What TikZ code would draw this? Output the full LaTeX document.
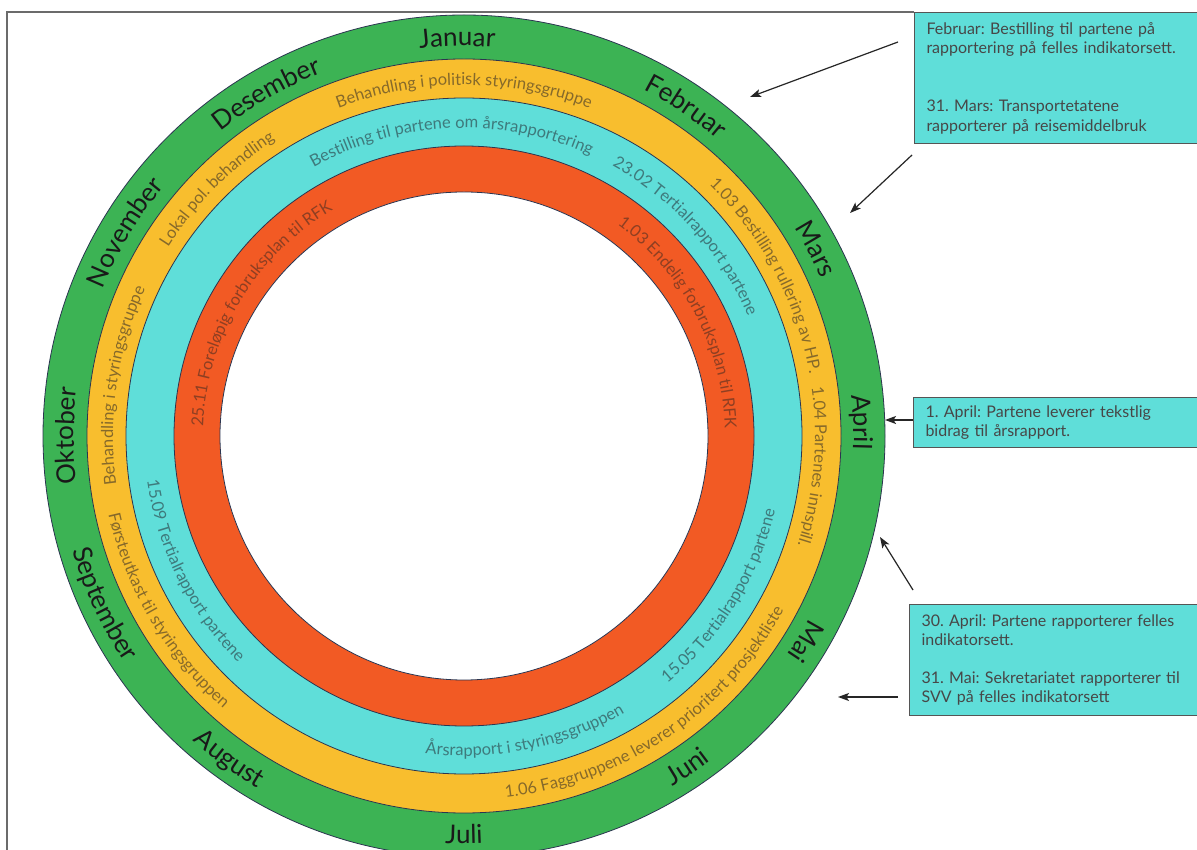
\documentclass[tikz,border=0pt]{standalone}
\usepackage{fontspec}
\setmainfont{Lato}
\usetikzlibrary{decorations.text,arrows.meta}
\definecolor{ringgreen}{HTML}{3CB354}
\definecolor{ringorange}{HTML}{F8BE2E}
\definecolor{ringcyan}{HTML}{5FDED9}
\definecolor{ringred}{HTML}{F25A24}
\definecolor{ringline}{HTML}{2B3550}
\definecolor{otxt}{HTML}{86692A}
\definecolor{ctxt}{HTML}{3E7A7C}
\definecolor{rtxt}{HTML}{8E3F22}
\definecolor{boxtxt}{HTML}{474747}
\definecolor{boxline}{HTML}{555555}
\definecolor{framegray}{HTML}{6B6B6B}
\frenchspacing
\newcommand\monthfmt{\fontsize{26}{30}\selectfont\color{black!90}}
\newcommand\ofmt{\fontsize{16.5}{19}\selectfont\color{otxt}}
\newcommand\cfmt{\fontsize{16.5}{19}\selectfont\color{ctxt}}
\newcommand\rfmt{\fontsize{16.5}{19}\selectfont\color{rtxt}}
\newcommand\cwtext[4]{\path[decorate,decoration={text along path,text align=center,text={|#3|#4}}] ({#2+100}:#1) arc[start angle={#2+100},end angle={#2-100},radius=#1];}
\newcommand\ccwtext[4]{\path[decorate,decoration={text along path,text align=center,text={|#3|#4}}] ({#2-100}:#1) arc[start angle={#2-100},end angle={#2+100},radius=#1];}
\tikzset{
  ring/.style={draw=ringline, line width=0.8pt},
  infobox/.style={draw=boxline, line width=1pt, fill=ringcyan, anchor=north west, align=left,
    inner xsep=12pt, inner ysep=0pt, text width=300pt, minimum width=324pt, text=boxtxt,
    font=\fontsize{16}{19.3}\selectfont},
  pointer/.style={draw=black!85, line width=1.2pt, -{Stealth[length=11pt,width=8pt,inset=2.5pt]}}
}
\begin{document}
\begin{tikzpicture}[x=1pt,y=1pt]
\useasboundingbox (0,0) rectangle (1197,849);
\clip (0,0) rectangle (1197,849);
\fill[white] (0,0) rectangle (1197,849);
% frame
\draw[framegray, line width=1.2pt] (7,-5) -- (7,837) -- (914,837);
\begin{scope}[shift={(464,413)}]
  \filldraw[ring, fill=ringgreen] (0,0) circle[radius=421];
  \filldraw[ring, fill=ringorange] (0,0) circle[radius=377];
  \filldraw[ring, fill=ringcyan] (0,0) circle[radius=338];
  \filldraw[ring, fill=ringred] (0,0) circle[radius=290];
  \filldraw[ring, fill=white] (0,0) circle[radius=244];
  % months
  \cwtext{390}{91}{\monthfmt}{Januar}
  \cwtext{390}{56}{\monthfmt}{Februar}
  \cwtext{390}{28}{\monthfmt}{Mars}
  \cwtext{390}{2}{\monthfmt}{April}
  \cwtext{390}{-31}{\monthfmt}{Mai}
  \ccwtext{408}{-56}{\monthfmt}{Juni}
  \ccwtext{408}{-90}{\monthfmt}{Juli}
  \ccwtext{408}{-126}{\monthfmt}{August}
  \ccwtext{408}{-155}{\monthfmt}{September}
  \cwtext{390}{180}{\monthfmt}{Oktober}
  \cwtext{390}{149}{\monthfmt}{November}
  \cwtext{390}{120}{\monthfmt}{Desember}
  % orange ring
  \cwtext{351}{90}{\ofmt}{Behandling i politisk styringsgruppe}
  \cwtext{351}{27.9}{\ofmt}{1.03 Bestilling rullering av HP.}
  \cwtext{351}{-5.1}{\ofmt}{1.04 Partenes innspill.}
  \ccwtext{364}{-56}{\ofmt}{1.06 Faggruppene leverer prioritert prosjektliste}
  \ccwtext{364}{-149.5}{\ofmt}{Førsteutkast til styringsgruppen}
  \cwtext{351}{171.6}{\ofmt}{Behandling i styringsgruppe}
  \cwtext{351}{135}{\ofmt}{Lokal pol. behandling}
  % cyan ring
  \cwtext{308}{92.5}{\cfmt}{Bestilling til partene om årsrapportering}
  \cwtext{308}{42}{\cfmt}{23.02 Tertialrapport partene}
  \ccwtext{320}{-32}{\cfmt}{15.05 Tertialrapport partene}
  \ccwtext{320}{-78.4}{\cfmt}{Årsrapport i styringsgruppen}
  \ccwtext{320}{-153.4}{\cfmt}{15.09 Tertialrapport partene}
  % red ring
  \cwtext{261}{149}{\rfmt}{25.11 Foreløpig forbruksplan til RFK}
  \cwtext{261}{27.8}{\rfmt}{1.03 Endelig forbruksplan til RFK}
\end{scope}
% info boxes
\node[infobox, minimum height=131pt] (feb) at (914,837)
  {Februar: Bestilling til partene på\\rapportering på felles indikatorsett.\\[39pt]31. Mars: Transportetatene\\rapporterer på reisemiddelbruk};
\node[infobox, minimum height=50pt] (apr) at (913,452)
  {1. April: Partene leverer tekstlig\\bidrag til årsrapport.};
\node[infobox, minimum height=111pt] (mai) at (909,245)
  {30. April: Partene rapporterer felles\\indikatorsett.\\[19pt]31. Mai: Sekretariatet rapporterer til\\SVV på felles indikatorsett};
% arrows
\coordinate (t1) at (898,807); \coordinate (h1) at (750,752);
\coordinate (t2) at (912,694); \coordinate (h2) at (850,636);
\coordinate (h3) at (885,429);
\coordinate (t4) at (913,259); \coordinate (h4) at (880,312);
\coordinate (t5) at (898,152); \coordinate (h5) at (838,152);
\draw[pointer] (t1) -- (h1);
\draw[pointer] (t2) -- (h2);
\draw[pointer] (apr.west |- h3) -- (h3);
\draw[pointer] (t4) -- (h4);
\draw[pointer] (t5) -- (h5);
\end{tikzpicture}
\end{document}
